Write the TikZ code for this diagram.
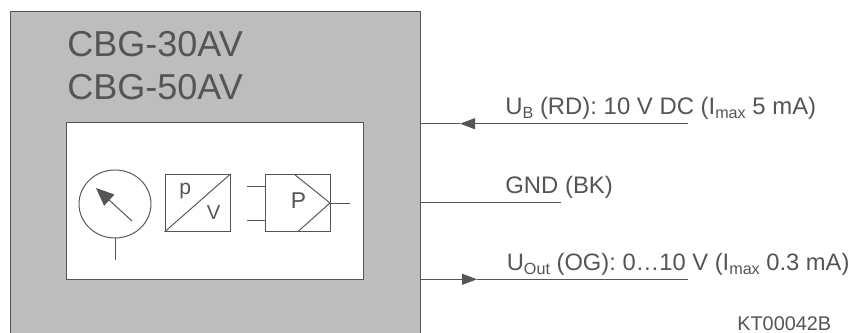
\documentclass[tikz,border=0pt]{standalone}
\usepackage{fontspec}
\setmainfont{Liberation Sans}
\usetikzlibrary{arrows.meta,shapes.geometric}
\definecolor{bodygray}{RGB}{189,189,189}
\definecolor{inkgray}{RGB}{85,85,85}
\newcommand{\lsub}[1]{\raisebox{-.25ex}{\fontsize{9.2}{10}\selectfont #1}}
\tikzset{
	line/.style={draw=inkgray,line width=.55pt},
	sym/.style={line,rectangle,minimum width=65*.02cm,minimum height=57*.02cm,inner sep=0pt},
	txt/.style={inkgray,inner sep=0pt,anchor=base west},
	tip/.style={-{Triangle[length=.3cm,width=.22cm]}}
}
\begin{document}
\begin{tikzpicture}[x=.02cm,y=-.02cm,every node/.style={font=\fontsize{13.6}{16}\selectfont}]
	\clip (0,0) rectangle (851,333);
	% Gehaeuse
	\node[line,fill=bodygray,rectangle,minimum width=410*.02cm,minimum height=340*.02cm,inner sep=0pt,anchor=north west] (body) at (9.5,11) {};
	\node[txt,font=\fontsize{20.5}{24}\selectfont] (name30) at (67,56.5) {CBG-30AV};
	\node[txt,font=\fontsize{20.5}{24}\selectfont] (name50) at (67,99.5) {CBG-50AV};
	\node[line,fill=white,rectangle,minimum width=296.5*.02cm,minimum height=157*.02cm,inner sep=0pt,anchor=north west] (window) at (66,122) {};
	% Manometer
	\node[line,ellipse,minimum width=72*.02cm,minimum height=68*.02cm,inner sep=0pt] (gauge) at (115,204) {};
	\coordinate (stem) at (115,260);
	\coordinate (needle) at (132,221);
	\coordinate (needletip) at (96,188);
	\draw[line] (gauge.south) -- (stem);
	\draw[line,-{Triangle[length=.36cm,width=.3cm]}] (needle) -- (needletip);
	% p/V Wandler
	\node[sym] (conv) at (197.5,203) {};
	\draw[line] (conv.south west) -- (conv.north east);
	\node[txt,font=\fontsize{12}{14}\selectfont] (convp) at (179,195) {p};
	\node[txt,font=\fontsize{11.5}{14}\selectfont] (convv) at (206.5,220) {V};
	% Verstaerker
	\node[sym] (amp) at (298,203) {};
	\node[txt,font=\fontsize{13}{16}\selectfont] (ampp) at (290.5,209) {P};
	\coordinate (ampa) at (294.5,174.5);
	\coordinate (ampb) at (330,203);
	\coordinate (ampc) at (298,231.5);
	\coordinate (ampout) at (349.5,203);
	\coordinate (ampin1) at (247,186);
	\coordinate (ampin2) at (247,220);
	\coordinate (ampin1e) at (265.5,186);
	\coordinate (ampin2e) at (265.5,220);
	\draw[line] (ampa) -- (ampb) -- (ampc);
	\draw[line] (ampb) -- (ampout);
	\draw[line] (ampin1) -- (ampin1e);
	\draw[line] (ampin2) -- (ampin2e);
	% Anschluesse
	\coordinate (ubin) at (419.5,123.7);
	\coordinate (ubtip) at (460,123.7);
	\coordinate (ubend) at (688,123.7);
	\coordinate (gndin) at (419.5,202.7);
	\coordinate (gndend) at (561,202.7);
	\coordinate (outin) at (419.5,279.3);
	\coordinate (outtip) at (477,279.3);
	\coordinate (outend) at (688,279.3);
	\draw[line] (ubin) -- (ubtip);
	\draw[line,tip] (ubend) -- (ubtip);
	\draw[line] (gndin) -- (gndend);
	\draw[line,tip] (outin) -- (outtip);
	\draw[line] (outtip) -- (outend);
	\node[txt] (ublbl) at (505,115) {U\lsub{B} (RD): 10 V DC (I\lsub{max} 5 mA)};
	\node[txt] (gndlbl) at (505,193.3) {GND (BK)};
	\node[txt,font=\fontsize{13.5}{16}\selectfont] (outlbl) at (506.5,271) {U\lsub{Out} (OG): 0…10 V (I\lsub{max} 0.3 mA)};
	\node[txt,font=\fontsize{11.3}{14}\selectfont] (code) at (737,331) {KT00042B};
\end{tikzpicture}
\end{document}
